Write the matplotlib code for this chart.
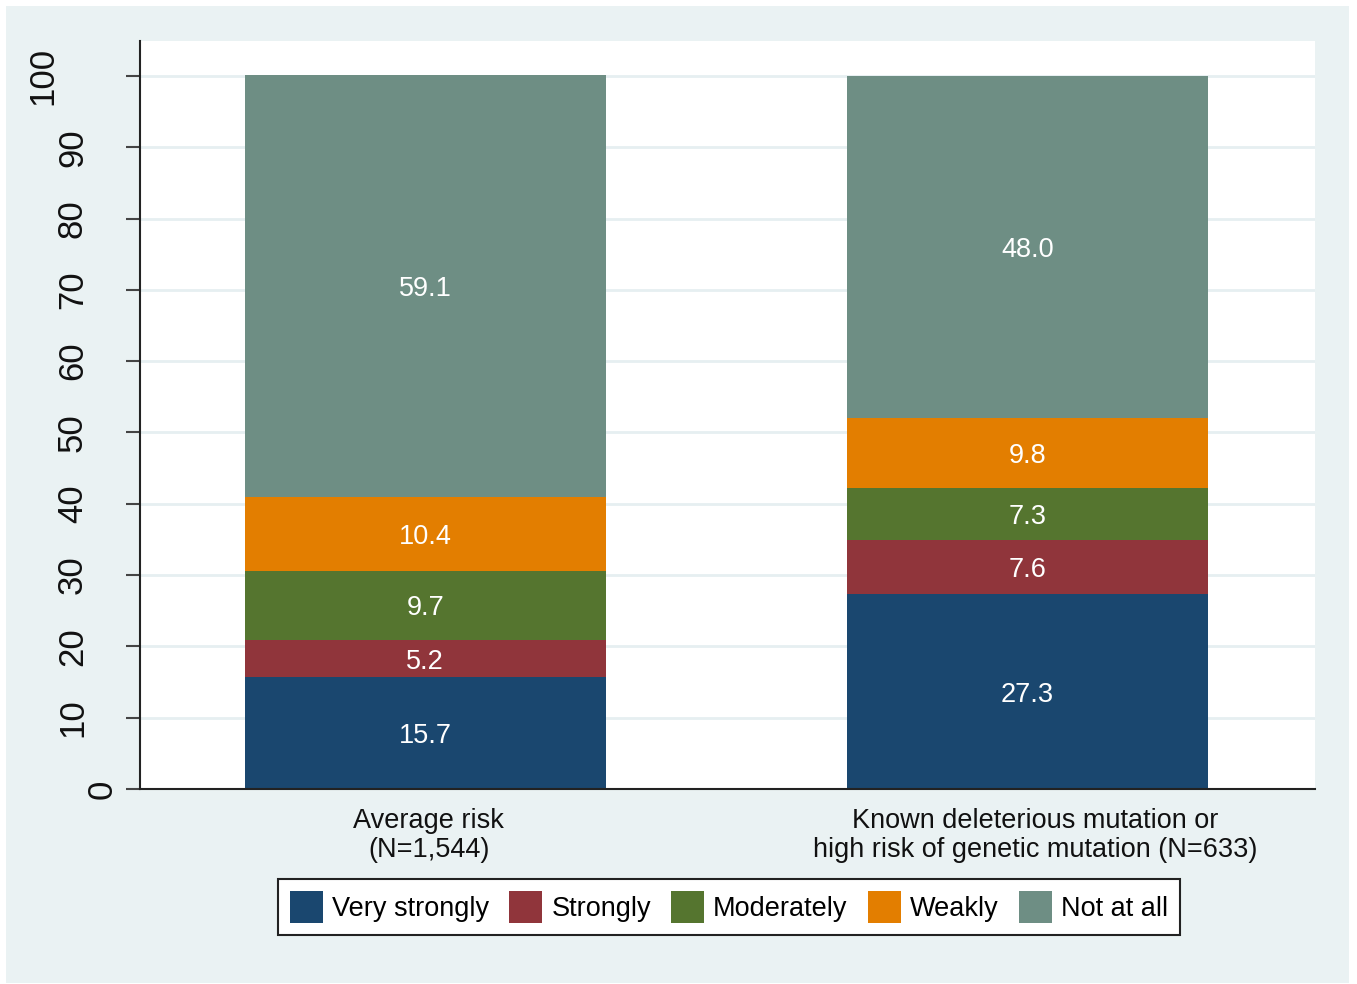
import matplotlib
matplotlib.use("Agg")
import matplotlib.pyplot as plt
from matplotlib.patches import Rectangle
from matplotlib.transforms import ScaledTranslation
import numpy as np

# ---- data ----
groups = ["Average risk\n(N=1,544)",
          "Known deleterious mutation or\nhigh risk of genetic mutation (N=633)"]
categories = ["Very strongly", "Strongly", "Moderately", "Weakly", "Not at all"]
very_strongly = [15.7, 27.3]
strongly = [5.2, 7.6]
moderately = [9.7, 7.3]
weakly = [10.4, 9.8]
not_at_all = [59.1, 48.0]
series = [very_strongly, strongly, moderately, weakly, not_at_all]
colors = ["#1A476F", "#90353B", "#55752F", "#E37E00", "#6E8E84"]
yticks = [0, 10, 20, 30, 40, 50, 60, 70, 80, 90, 100]

plt.rcParams["font.family"] = ["Liberation Sans", "DejaVu Sans"]

W, H = 1357, 984
fig = plt.figure(figsize=(W / 100, H / 100), dpi=100, facecolor="white")
bg = Rectangle((6 / W, 1 / H), (1349 - 6) / W, (983 - 6) / H,
               transform=fig.transFigure, facecolor="#EAF2F3",
               edgecolor="none", zorder=-10)
fig.add_artist(bg)

ax = fig.add_axes([140 / W, 1 - 789 / H, (1315 - 140) / W, (789 - 41) / H])
ax.set_facecolor("white")
ax.set_zorder(1)

x = np.arange(len(groups))
bottom = np.zeros(len(groups))
for vals, col, name in zip(series, colors, categories):
    vals = np.array(vals)
    ax.bar(x, vals, width=0.6, bottom=bottom, color=col, label=name,
           zorder=2, linewidth=0)
    for xi, b, v in zip(x, bottom, vals):
        ax.text(xi, b + v / 2, f"{v:.1f}", ha="center", va="center_baseline",
                color="white", fontsize=19.5, zorder=3)
    bottom = bottom + vals

ax.set_xlim(-0.474, 1.478)
ax.set_ylim(0, 104.9)
ax.set_yticks(yticks)
ax.set_yticklabels([str(t) for t in yticks], rotation=90, va="center",
                   ha="right", fontsize=25, color="#111111")
ax.set_xticks(x)
ax.set_xticklabels(groups, fontsize=19.5, color="#111111", linespacing=1.15)
ax.tick_params(axis="x", length=0, pad=13.5)
ax.tick_params(axis="y", length=10, width=1.5, color="#444444", pad=5.5)
ax.yaxis.grid(True, color="#E6EFF1", linewidth=2, zorder=0)
ax.set_axisbelow(True)
for s in ["top", "right"]:
    ax.spines[s].set_visible(False)
for s in ["left", "bottom"]:
    ax.spines[s].set_color("#222222")
    ax.spines[s].set_linewidth(1.5)

leg = ax.legend(loc="center", bbox_to_anchor=(729 / W, 1 - 907 / H),
                bbox_transform=fig.transFigure, ncol=5, fontsize=19.5,
                frameon=True, fancybox=False, handlelength=1.22,
                handleheight=1.45, handletextpad=0.33, columnspacing=0.75,
                borderpad=0.45, borderaxespad=0)
leg.get_frame().set_edgecolor("#222222")
leg.get_frame().set_linewidth(1.5)
leg.get_frame().set_alpha(1)

fig.canvas.draw()
for tick, t in zip(ax.yaxis.get_major_ticks(), yticks):
    n = len(str(t))
    if n > 1:
        tick.label1.set_transform(tick.label1.get_transform() +
                                  ScaledTranslation(-0.295 * (n - 1), 0,
                                                    fig.dpi_scale_trans))
for tick, dx in zip(ax.xaxis.get_major_ticks(), [0.035, 0.075]):
    tick.label1.set_transform(tick.label1.get_transform() +
                              ScaledTranslation(dx, 0, fig.dpi_scale_trans))

fig.savefig("out.png", dpi=100, facecolor="white")
